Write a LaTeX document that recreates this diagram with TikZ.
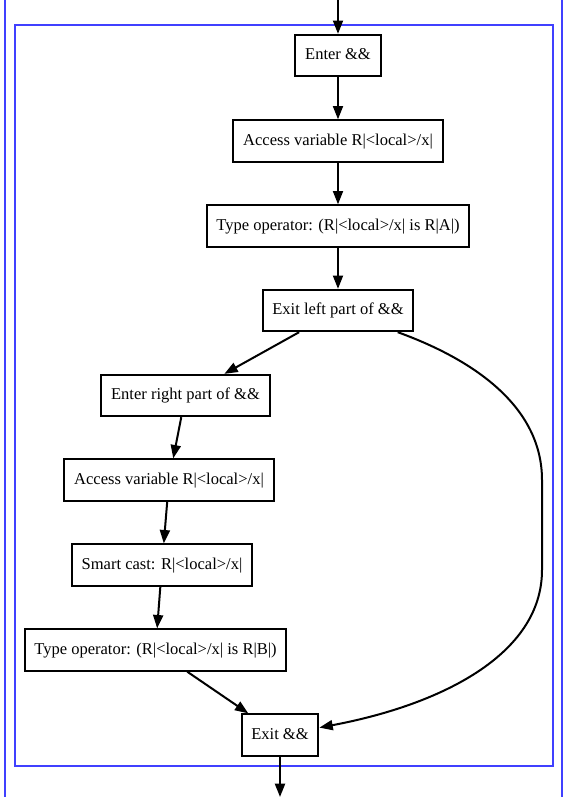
\documentclass[tikz,border=0pt]{standalone}
\usepackage{fontspec}
\setmainfont{Liberation Serif}
\usetikzlibrary{arrows.meta,positioning}

\begin{document}
\begin{tikzpicture}[x=0.75pt, y=-0.75pt,
    blk/.style={rectangle, draw, line width=1.5pt, minimum height=31pt, inner xsep=7.3pt, text height=8.6pt, text depth=2.4pt, font=\fontsize{12.4}{14}\selectfont},
    ar/.style={line width=1.5pt, -{Triangle[length=10pt,width=7.5pt]}},
    clus/.style={draw=blue!75!white, line width=0.8pt}]
    \useasboundingbox (0,0) rectangle (569,797);
    % clusters
    \draw [clus] (5,0) -- (5,797);
    \draw [clus] (562,0) -- (562,797);
    \draw [clus] (15,25) rectangle (553,766);
    % nodes
    \node [blk] (ent) at (338,55.5) {Enter \&\&};
    \node [blk] (acc1) at (338,141) {Access variable R|<local>/x|};
    \node [blk] (tya) at (338,226) {Type operator: (R|<local>/x| is R|A|)};
    \node [blk] (exl) at (338,310.5) {Exit left part of \&\&};
    \node [blk] (enr) at (185.5,395.5) {Enter right part of \&\&};
    \node [blk] (acc2) at (169,480) {Access variable R|<local>/x|};
    \node [blk] (cast) at (162,565) {Smart cast: R|<local>/x|};
    \node [blk] (tyb) at (155.5,650) {Type operator: (R|<local>/x| is R|B|)};
    \node [blk] (exd) at (280,735) {Exit \&\&};
    \coordinate (in) at (338,0);
    \coordinate (out) at (280,797);
    % edges
    \draw [ar] (in) -- (ent);
    \draw [ar] (ent) -- (acc1);
    \draw [ar] (acc1) -- (tya);
    \draw [ar] (tya) -- (exl);
    \draw [ar] (exl) -- (enr);
    \draw [ar] (enr) -- (acc2);
    \draw [ar] (acc2) -- (cast);
    \draw [ar] (cast) -- (tyb);
    \draw [ar] (tyb) -- (exd);
    \draw [ar] (exl) .. controls (480,362) and (542,410) .. (542,480) -- (542,570) .. controls (542,655) and (440,705) .. (exd);
    \draw [ar] (exd) -- (out);
\end{tikzpicture}
\end{document}
